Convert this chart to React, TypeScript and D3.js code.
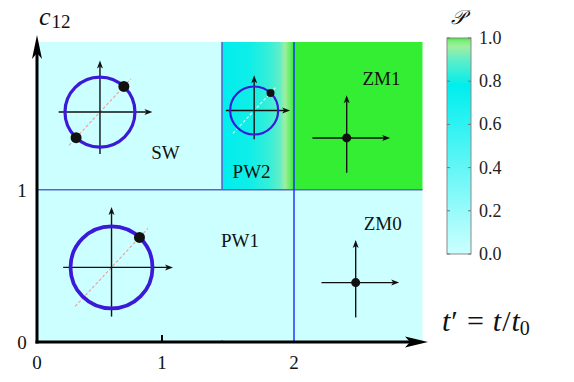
import React from "react";
import * as d3 from "d3";

// axis ticks
const tTicks = [0, 1, 2];
const cTicks = [0, 1];
const pTicks = [0, 0.2, 0.4, 0.6, 0.8, 1.0];

// phase regions (t' from/to, c12 from/to, P value; -1 = gradient)
const regionNames = ["SW", "PW1", "PW2", "ZM1", "ZM0"];
const regionT0 = [0, 0, 1.44, 2, 2];
const regionT1 = [1.44, 2, 2, 3, 3];
const regionC0 = [1, 0, 1, 1, 0];
const regionC1 = [1.97, 1, 1.97, 1.97, 1];
const regionP = [0, 0, -1, 1, 0];
const labelT = [1.0, 1.58, 1.67, 2.68, 2.69];
const labelC = [1.2, 0.625, 1.08, 1.69, 0.737];

// little phase-space sketches inside each region
const insetT = [0.49, 0.58, 1.69, 2.41, 2.48];
const insetC = [1.51, 0.49, 1.52, 1.34, 0.39];
const insetKind = ["two", "one", "one", "zero", "zero"];

// P profile across PW2
const pw2T = [1.44, 1.66, 1.81, 1.89, 1.93, 1.97, 2.0];
const pw2P = [0.78, 0.8, 0.85, 0.9, 0.96, 0.99, 1.0];

// colormap
const cmapP = [0, 0.78, 0.9, 0.96, 0.985, 1];
const cmapColor = ["#ccffff", "#00eeee", "#60eec8", "#a0eea0", "#80ee80", "#33ee33"];

const W = 574;
const H = 382;

const x = d3.scaleLinear().domain([0, 3]).range([37, 422.5]);
const y = d3.scaleLinear().domain([0, 1.97]).range([342, 42]);
const color = d3.scaleLinear<string>().domain(cmapP).range(cmapColor);
const pScale = d3.scaleLinear().domain([0, 1]).range([254, 38]);

const serif = "Liberation Serif, DejaVu Serif, serif";

function Arrow({ x1, y1, x2, y2, len = 8, half = 3, w = 1.4 }: any) {
  const a = Math.atan2(y2 - y1, x2 - x1);
  const bx = x2 - len * Math.cos(a);
  const by = y2 - len * Math.sin(a);
  const nx = -Math.sin(a) * half;
  const ny = Math.cos(a) * half;
  const mx = x2 - len * 0.75 * Math.cos(a);
  const my = y2 - len * 0.75 * Math.sin(a);
  return (
    <g>
      <line x1={x1} y1={y1} x2={mx} y2={my} stroke="#111" strokeWidth={w} />
      <path
        d={`M${x2},${y2}L${bx + nx},${by + ny}L${mx},${my}L${bx - nx},${by - ny}Z`}
        fill="#111"
      />
    </g>
  );
}

function Inset({ cx, cy, kind, r }: any) {
  const ang = (-47 * Math.PI) / 180;
  const light = r < 30;
  return (
    <g>
      {kind !== "zero" && (
        <line
          x1={cx - 1.3 * r * Math.cos(ang)}
          y1={cy - 1.3 * r * Math.sin(ang)}
          x2={cx + 1.3 * r * Math.cos(ang)}
          y2={cy + 1.3 * r * Math.sin(ang)}
          stroke={light ? "#eef8f8" : "#f59a9a"}
          strokeWidth={1.1}
          strokeDasharray="3,2"
        />
      )}
      <Arrow x1={cx - 1.18 * r} y1={cy} x2={cx + 1.5 * r} y2={cy} />
      <Arrow x1={cx} y1={cy + 1.2 * r} x2={cx} y2={cy - 1.47 * r} />
      {kind !== "zero" && (
        <circle cx={cx} cy={cy} r={r} fill="none" stroke="#3a1ad8" strokeWidth={r / 11} />
      )}
      {kind !== "zero" && (
        <circle
          cx={cx + r * Math.cos(ang)}
          cy={cy + r * Math.sin(ang)}
          r={light ? 4 : 5.5}
          fill="#111"
        />
      )}
      {kind === "two" && (
        <circle
          cx={cx - r * Math.cos(ang)}
          cy={cy - r * Math.sin(ang)}
          r={5.5}
          fill="#111"
        />
      )}
      {kind === "zero" && <circle cx={cx} cy={cy} r={4.5} fill="#111" />}
    </g>
  );
}

export default function App() {
  const insetR = [35, 41, 24, 29, 29];
  return (
    <svg
      width={W}
      height={H}
      style={{ position: "absolute", left: 0, top: 0, background: "#fff" }}
    >
      <defs>
        <linearGradient id="pw2grad" x1="0" x2="1" y1="0" y2="0">
          {pw2T.map((t, i) => (
            <stop
              key={i}
              offset={(t - pw2T[0]) / (pw2T[pw2T.length - 1] - pw2T[0])}
              stopColor={color(pw2P[i])}
            />
          ))}
        </linearGradient>
        <linearGradient id="cbar" x1="0" x2="0" y1="1" y2="0">
          {cmapP.map((p, i) => (
            <stop key={i} offset={p} stopColor={cmapColor[i]} />
          ))}
        </linearGradient>
      </defs>

      {/* regions */}
      {regionNames.map((n, i) => (
        <rect
          key={n}
          x={x(regionT0[i])}
          y={y(regionC1[i])}
          width={x(regionT1[i]) - x(regionT0[i])}
          height={y(regionC0[i]) - y(regionC1[i])}
          fill={regionP[i] < 0 ? "url(#pw2grad)" : color(regionP[i])}
        />
      ))}

      {/* boundaries */}
      <line x1={x(0)} x2={x(3)} y1={y(1)} y2={y(1)} stroke="#5566cc" strokeWidth={1.6} />
      <line x1={x(1.44)} x2={x(1.44)} y1={y(1.97)} y2={y(1)} stroke="#5566cc" strokeWidth={1.6} />
      <line x1={x(2)} x2={x(2)} y1={y(1.97)} y2={y(0)} stroke="#1a2aff" strokeWidth={1.4} />
      <line x1={x(1.44)} x2={x(1.44)} y1={y(0) - 2} y2={y(0)} stroke="#5566cc" strokeWidth={1.2} />

      {/* insets */}
      {regionNames.map((n, i) => (
        <Inset key={n} cx={x(insetT[i])} cy={y(insetC[i])} kind={insetKind[i]} r={insetR[i]} />
      ))}

      {/* region labels */}
      {regionNames.map((n, i) => (
        <text
          key={n}
          x={x(labelT[i])}
          y={y(labelC[i])}
          textAnchor="middle"
          style={{ fontFamily: serif }}
          fontSize={19}
          fill="#111"
        >
          {n}
        </text>
      ))}

      {/* axes */}
      <line x1={x(0)} x2={x(0)} y1={y(0) + 1.5} y2={52} stroke="#000" strokeWidth={3} />
      <path d={`M${x(0)},35L${x(0) + 5},59L${x(0)},53L${x(0) - 5},59Z`} fill="#000" />
      <line x1={x(0) - 1.5} x2={412} y1={y(0)} y2={y(0)} stroke="#000" strokeWidth={3} />
      <path d={`M428,${y(0)}L405,${y(0) - 5.5}L410,${y(0)}L405,${y(0) + 5.5}Z`} fill="#000" />
      {tTicks.slice(1, 2).map((t) => (
        <line key={t} x1={x(t) - 3.5} x2={x(t) - 3.5} y1={y(0)} y2={y(0) - 7} stroke="#000" strokeWidth={2} />
      ))}
      {tTicks.map((t) => (
        <text
          key={t}
          x={x(t) - (t === 1 ? 3.5 : 0)}
          y={369}
          textAnchor="middle"
          style={{ fontFamily: serif }}
          fontSize={19}
          fill="#111"
        >
          {t}
        </text>
      ))}
      {cTicks.map((c) => (
        <text
          key={c}
          x={22}
          y={y(c) + 7}
          textAnchor="middle"
          style={{ fontFamily: serif }}
          fontSize={19}
          fill="#111"
        >
          {c}
        </text>
      ))}

      {/* axis titles */}
      <text x={39} y={25} style={{ fontFamily: serif }} fill="#111">
        <tspan fontSize={26} fontStyle="italic">c</tspan>
        <tspan fontSize={19} dy={3} dx={1}>12</tspan>
      </text>
      <text x={442} y={331} style={{ fontFamily: serif }} fill="#111" fontSize={30}>
        <tspan fontStyle="italic">t</tspan>
        <tspan dx={1}>′</tspan>
        <tspan dx={9}>=</tspan>
        <tspan dx={9} fontStyle="italic">t</tspan>
        <tspan dx={1}>/</tspan>
        <tspan dx={1} fontStyle="italic">t</tspan>
        <tspan fontSize={20} dy={4}>0</tspan>
      </text>

      {/* colorbar */}
      <rect x={447} y={38} width={24} height={216} fill="url(#cbar)" stroke="#8a8a8a" strokeWidth={1} />
      {pTicks.map((p) => (
        <g key={p}>
          <line x1={447} x2={450} y1={pScale(p)} y2={pScale(p)} stroke="#777" />
          <line x1={468} x2={471} y1={pScale(p)} y2={pScale(p)} stroke="#777" />
          <text x={479} y={pScale(p) + 6} style={{ fontFamily: serif }} fontSize={18} fill="#222">
            {p.toFixed(1)}
          </text>
        </g>
      ))}
      <text x={458} y={24} textAnchor="middle" style={{ fontFamily: "DejaVu Serif, serif" }} fontSize={20} fontStyle="italic" fill="#111">
        𝒫
      </text>
    </svg>
  );
}
